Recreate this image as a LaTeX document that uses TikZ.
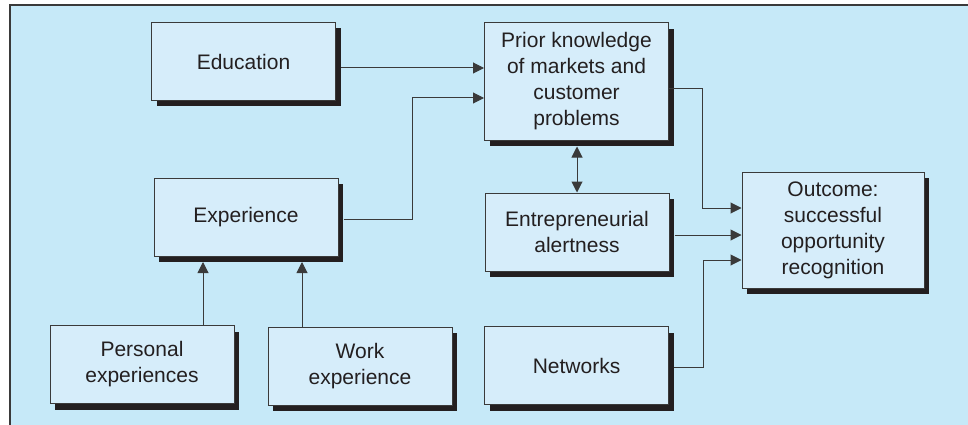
\documentclass[tikz,border=0pt]{standalone}
\usepackage{fontspec}
\setmainfont{Liberation Sans}
\usetikzlibrary{shadows,arrows.meta,calc}
\definecolor{panel}{HTML}{C6E9F8}
\definecolor{boxfill}{HTML}{D6EDFA}
\definecolor{ink}{HTML}{231F20}
\definecolor{edge}{HTML}{3A3A3A}
\tikzset{
  box/.style={draw=edge, line width=1pt, fill=boxfill, text=ink, align=center,
    minimum width=184pt, minimum height=78pt, inner sep=2pt,
    font=\fontsize{21}{26}\selectfont,
    drop shadow={shadow xshift=5pt, shadow yshift=-6pt, fill=ink, opacity=1}},
  tallbox/.style={box, minimum height=117pt},
  arr/.style={draw=edge, line width=1pt, -{Triangle[length=11pt,width=11pt]}},
  darr/.style={draw=edge, line width=1pt, {Triangle[length=11pt,width=11pt]}-{Triangle[length=11pt,width=11pt]}}
}
\begin{document}
\begin{tikzpicture}[x=1pt,y=-1pt]
\useasboundingbox (0,0) rectangle (968,425);
\fill[white] (0,0) rectangle (968,425);
\fill[panel] (10,5) rectangle (968,425);
\draw[edge, line width=1.5pt] (10,425) -- (10,5) -- (968,5);

\node[box] (edu) at (243.5,61.5) {Education};
\node[tallbox] (prior) at (576.5,81.5) {Prior knowledge\\of markets and\\customer\\problems};
\node[box] (exp) at (246,217) {Experience};
\node[box] (ent) at (577,232) {Entrepreneurial\\alertness};
\node[tallbox, minimum width=182pt, minimum height=116pt] (out) at (833,230) {Outcome:\\successful\\opportunity\\recognition};
\node[box] (pers) at (142,364.5) {Personal\\experiences};
\node[box] (work) at (360,366) {Work\\experience};
\node[box] (net) at (576.5,365.5) {Networks};

% Education -> Prior
\draw[arr] ($(edu.east)+(5,6.5)$) -- ($(prior.west)+(0,-13.5)$);
% Experience -> Prior
\draw[arr] ($(exp.east)+(5,2)$) -| (412,98) -- ($(prior.west)+(0,16.5)$);
% Prior -> Outcome
\draw[arr] ($(prior.east)+(0,7.5)$) -| (702,208) -- ($(out.west)+(0,-22)$);
% Entrepreneurial -> Outcome
\draw[arr] ($(ent.east)+(5,3)$) -- ($(out.west)+(0,5)$);
% Networks -> Outcome
\draw[arr] ($(net.east)+(5,1.5)$) -| (703,260) -- ($(out.west)+(0,30)$);
% Prior <-> Entrepreneurial
\draw[darr] ($(prior.south)+(0.5,6)$) -- (ent.north);
% Personal / Work -> Experience
\draw[arr] (pers.north -| 203,0) -- (203,262);
\draw[arr] (work.north -| 302,0) -- (302,262);
\end{tikzpicture}
\end{document}
